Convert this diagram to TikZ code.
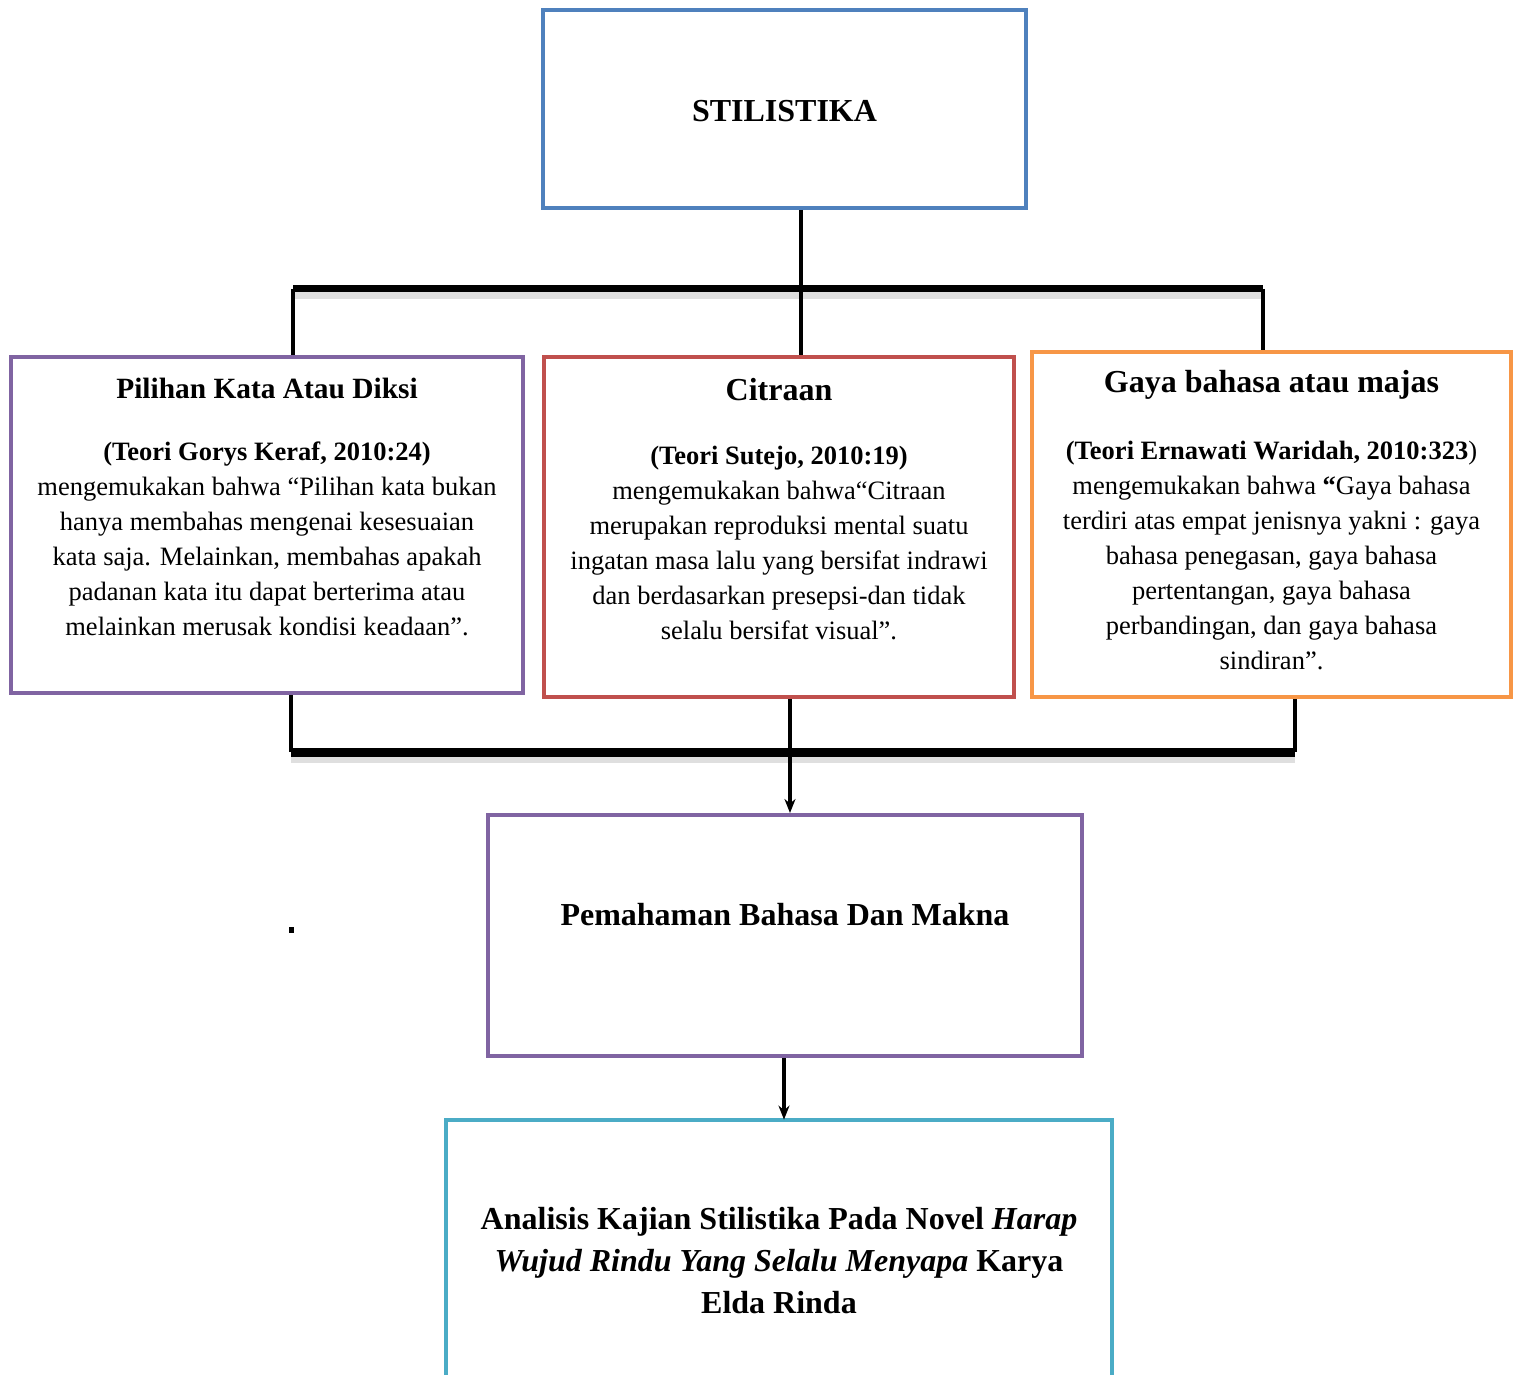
\documentclass[tikz,border=0pt]{standalone}
\usepackage{fontspec}
\setmainfont{Liberation Serif}
\usetikzlibrary{arrows.meta}

\definecolor{stilblue}{HTML}{4F81BD}
\definecolor{dikpurple}{HTML}{8064A2}
\definecolor{citred}{HTML}{C0504D}
\definecolor{gayorange}{HTML}{F79646}
\definecolor{anateal}{HTML}{4BACC6}

\newcommand{\headfont}{\fontsize{16}{21}\selectfont\bfseries}
\newcommand{\bodyfont}{\fontsize{13.25}{17.5}\selectfont}

\begin{document}
\begin{tikzpicture}[x=0.5pt,y=-0.5pt,
    box/.style={draw=#1,line width=2pt,inner sep=0pt},
    link/.style={line width=2.2pt},
    bar/.style={line width=3.5pt},
    shade/.style={gray!25,line width=4pt},
    head/.style={align=center,inner sep=0pt,font=\headfont},
    txt/.style={align=center,inner sep=0pt,font=\bodyfont}]
  \useasboundingbox (0,0) rectangle (1515,1375);

  % boxes
  \node [box=stilblue,minimum width=241.5pt,minimum height=99pt] (stil) at (784.5,109) {};
  \node [box=dikpurple,minimum width=256pt,minimum height=168pt] (diksi) at (267,525) {};
  \node [box=citred,minimum width=235pt,minimum height=170pt] (citra) at (779,527) {};
  \node [box=gayorange,minimum width=239.5pt,minimum height=172.5pt] (gaya) at (1271.5,524.5) {};
  \node [box=dikpurple,minimum width=297pt,minimum height=120.5pt] (makna) at (785,935.5) {};
  \node [inner sep=0pt,minimum width=333pt,minimum height=127.5pt] (analisis) at (779,1247.5) {};
  \draw [anateal,line width=2pt] (analisis.south west) -- (analisis.north west)
    -- (analisis.north east) -- (analisis.south east);

  % texts
  \node [head] (stilText) at (784.5,111) {STILISTIKA};

  \node [head,font=\fontsize{14.7}{21}\selectfont\bfseries] (diksiHead) at (diksi.center |- 0,388) {Pilihan Kata Atau Diksi};
  \node [txt] (diksiBody) at (diksi.center |- 0,539) {\textbf{(Teori Gorys Keraf, 2010:24)}\\
    mengemukakan bahwa “Pilihan kata bukan\\
    hanya membahas mengenai kesesuaian\\
    kata saja. Melainkan, membahas apakah\\
    padanan kata itu dapat berterima atau\\
    melainkan merusak kondisi keadaan”.};

  \node [head] (citraHead) at (citra.center |- 0,390) {Citraan};
  \node [txt] (citraBody) at (citra.center |- 0,543) {\textbf{(Teori Sutejo, 2010:19)}\\
    mengemukakan bahwa“Citraan\\
    merupakan reproduksi mental suatu\\
    ingatan masa lalu yang bersifat indrawi\\
    dan berdasarkan presepsi-dan tidak\\
    selalu bersifat visual”.};

  \node [head] (gayaHead) at (gaya.center |- 0,385) {Gaya bahasa atau majas};
  \node [txt] (gayaBody) at (gaya.center |- 0,555) {\textbf{(Teori Ernawati Waridah, 2010:323})\\
    mengemukakan bahwa \textbf{“}Gaya bahasa\\
    terdiri atas empat jenisnya yakni : gaya\\
    bahasa penegasan, gaya bahasa\\
    pertentangan, gaya bahasa\\
    perbandingan, dan gaya bahasa\\
    sindiran”.};

  \node [head] (maknaText) at (makna.center |- 0,915) {Pemahaman Bahasa Dan Makna};

  \node [head] (analisisText) at (analisis.center |- 0,1261) {Analisis Kajian Stilistika Pada Novel \textit{Harap}\\
    \textit{Wujud Rindu Yang Selalu Menyapa} Karya\\
    Elda Rinda};

  % connectors, top fork
  \coordinate (forkL) at (293,289);
  \coordinate (forkC) at (801,289);
  \coordinate (forkR) at (1263,289);
  \draw [link] (stil.south -| forkC) -- (forkC);
  \draw [shade] ([yshift=-3pt]forkL) -- ([yshift=-3pt]forkR);
  \draw [bar] (forkL) -- (forkR);
  \draw [link] (forkL) -- (forkL |- diksi.north);
  \draw [link] (forkC) -- (forkC |- citra.north);
  \draw [link] (forkR) -- (forkR |- gaya.north);

  % connectors, bottom join
  \coordinate (joinL) at (291,752);
  \coordinate (joinC) at (790,752);
  \coordinate (joinR) at (1295,752);
  \draw [link] (joinL |- diksi.south) -- (joinL);
  \draw [link] (joinC |- citra.south) -- (joinC);
  \draw [link] (joinR |- gaya.south) -- (joinR);
  \draw [shade] ([yshift=-3.5pt]joinL) -- ([yshift=-3.5pt]joinR);
  \draw [bar,line width=4.5pt] (joinL) -- (joinR);
  \draw [link,-{Stealth[length=7pt,width=5.5pt]}] (joinC) -- (joinC |- makna.north);
  \draw [link,-{Stealth[length=7pt,width=5.5pt]}] (makna.south -| 784,0) -- (analisis.north -| 784,0);

  \fill (289,927) rectangle (294,933);
\end{tikzpicture}
\end{document}
